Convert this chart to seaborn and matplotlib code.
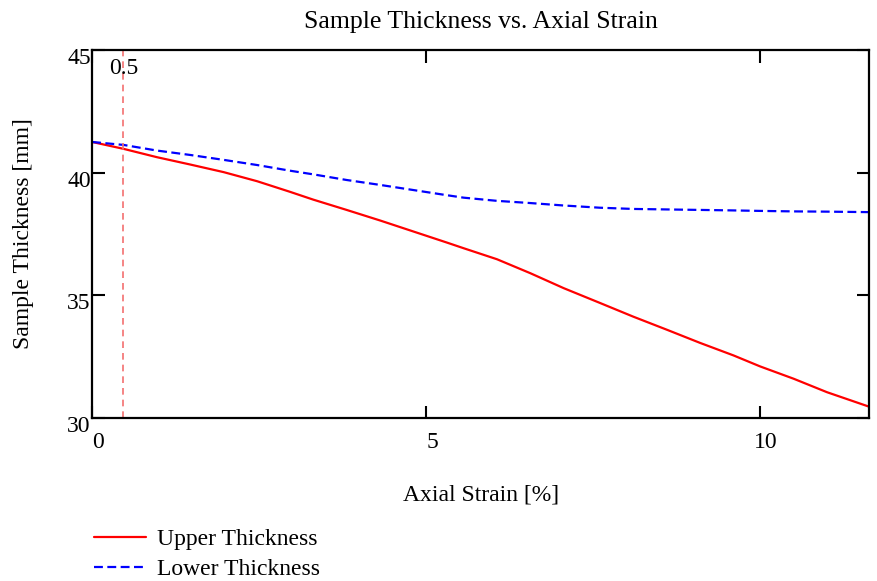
import matplotlib
matplotlib.use('Agg')
import matplotlib.pyplot as plt
import matplotlib.transforms as mtransforms
import seaborn as sns
import pandas as pd

# values
strain = [0.0, 0.47, 0.97, 1.47, 1.97, 2.47, 2.96, 3.31, 3.81, 4.31, 4.81, 5.31, 5.56,
          6.06, 6.56, 7.06, 7.6, 8.1, 8.6, 9.1, 9.6, 10.0, 10.5, 11.0, 11.63]
upper = [41.25, 40.97, 40.63, 40.33, 40.02, 39.65, 39.22, 38.9, 38.48, 38.05, 37.6, 37.15, 36.92,
         36.47, 35.9, 35.29, 34.69, 34.13, 33.6, 33.06, 32.55, 32.1, 31.6, 31.05, 30.46]
lower = [41.25, 41.13, 40.9, 40.72, 40.52, 40.31, 40.08, 39.93, 39.7, 39.5, 39.29, 39.08, 38.98,
         38.85, 38.76, 38.66, 38.57, 38.52, 38.5, 38.48, 38.46, 38.44, 38.42, 38.41, 38.39]
marker_x = 0.47
marker_label = '0.5'
xticks = [0, 5, 10]
yticks = [30, 35, 40, 45]

df = pd.DataFrame({'strain': strain, 'upper': upper, 'lower': lower})

sns.set_style('ticks')
plt.rcParams['font.family'] = ['Liberation Serif', 'DejaVu Serif']
plt.rcParams['text.color'] = 'black'
plt.rcParams['axes.labelcolor'] = 'black'
plt.rcParams['xtick.color'] = 'black'
plt.rcParams['ytick.color'] = 'black'

fig = plt.figure(figsize=(8.77, 5.81), dpi=100)
ax = fig.add_axes([0.105, 0.2806, 0.886, 0.6334])

sns.lineplot(x='strain', y='upper', data=df, ax=ax, color='#ff0000', lw=1.6,
             label='Upper Thickness')
sns.lineplot(x='strain', y='lower', data=df, ax=ax, color='#0000ff', lw=1.6,
             label='Lower Thickness')
ax.lines[-1].set_dashes([4, 2])

ax.axvline(marker_x, color='#f47070', lw=1.2, dashes=(4, 3))
ax.text(marker_x, 44.25, marker_label, ha='center', va='center', fontsize=17)

ax.set_xlim(0, 11.63)
ax.set_ylim(30, 45)
ax.set_xticks(xticks)
ax.set_yticks(yticks)
ax.tick_params(direction='in', length=9, width=1.5, labelsize=17,
               top=True, right=True, pad=10)
ax.tick_params(axis='y', pad=1)
for s in ax.spines.values():
    s.set_linewidth(1.6)
    s.set_color('black')

off = mtransforms.ScaledTranslation(6 / 100, 0, fig.dpi_scale_trans)
for lab in ax.get_xticklabels():
    lab.set_transform(lab.get_transform() + off)
yoff = mtransforms.ScaledTranslation(0, 2 / 100, fig.dpi_scale_trans)
for lab in ax.get_yticklabels():
    lab.set_va('top')
    lab.set_transform(lab.get_transform() + yoff)

ax.set_title('Sample Thickness vs. Axial Strain', fontsize=18.5, pad=16)
ax.set_xlabel('Axial Strain [%]', fontsize=17, labelpad=23)
ax.set_ylabel('Sample Thickness [mm]', fontsize=17, labelpad=24)

h, l = ax.get_legend_handles_labels()
ax.legend_.remove()
fig.legend(h, l, loc='upper left', bbox_to_anchor=(0.094, 0.111), frameon=False,
           fontsize=17, handlelength=2.2, handletextpad=0.45, labelspacing=0.38,
           borderpad=0)

fig.savefig('out.png', dpi=100)
